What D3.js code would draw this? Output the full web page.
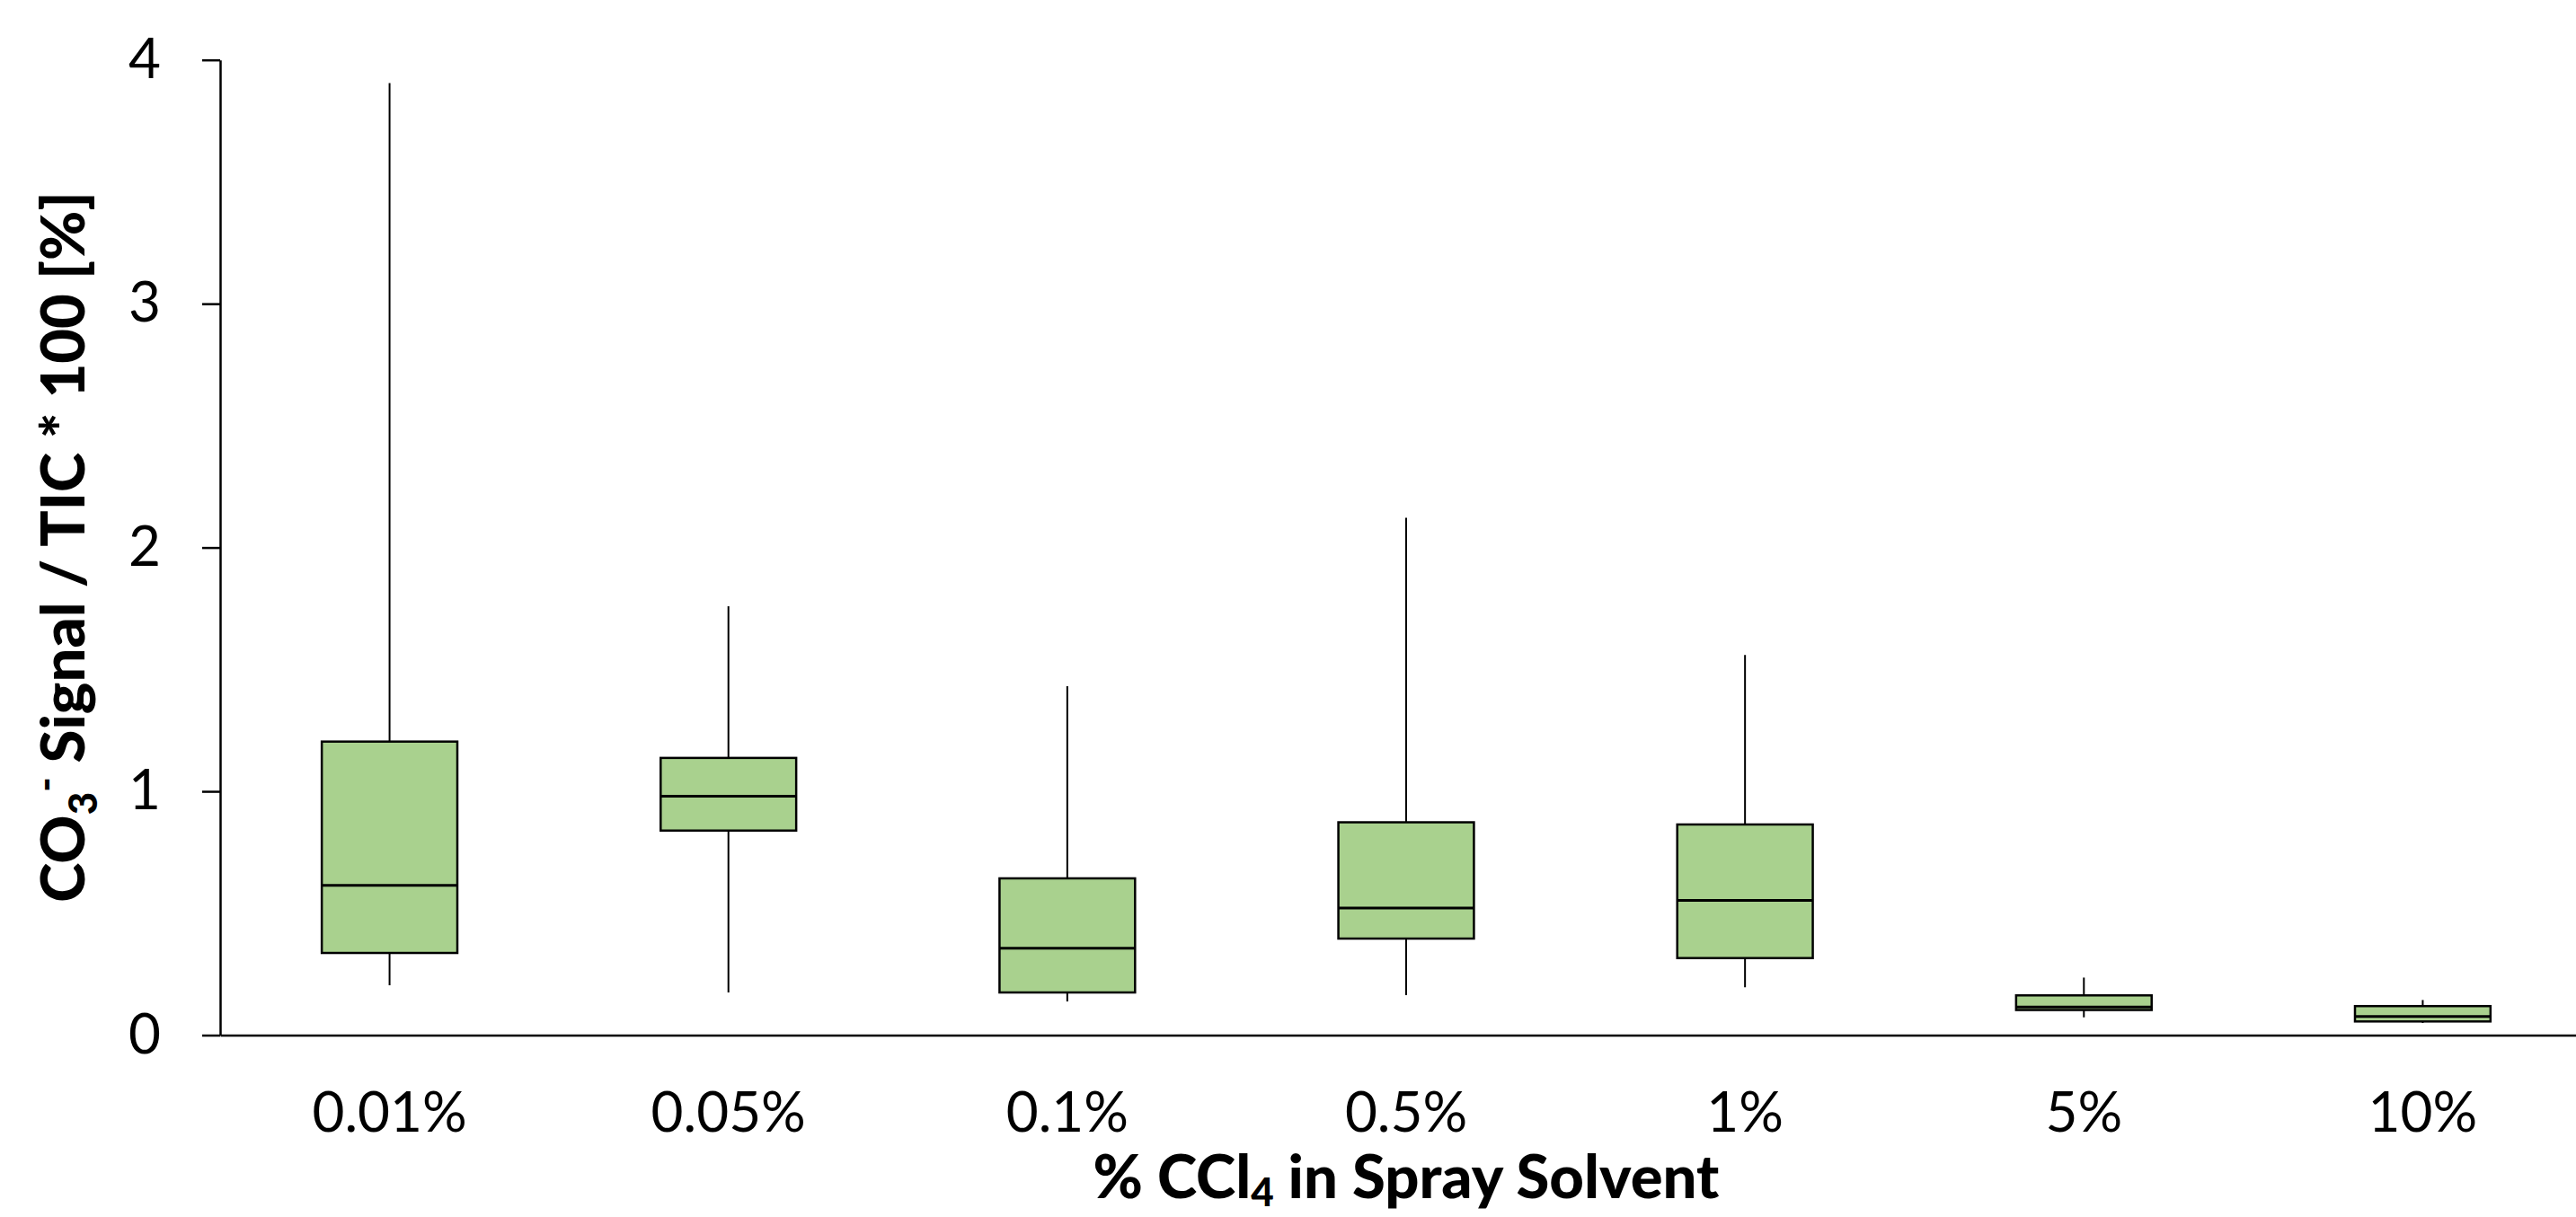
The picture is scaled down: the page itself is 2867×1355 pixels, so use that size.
<!DOCTYPE html>
<html>
<head>
<meta charset="utf-8">
<script src="https://cdn.jsdelivr.net/npm/d3@7"></script>
<style>
  body { margin: 0; background: #fff; }
  svg { display: block; }
  text { font-family: Lato, "Open Sans", sans-serif; fill: #000; }
</style>
</head>
<body>
<div id="chart"></div>
<script>
// box plot data
const categories = ["0.01%", "0.05%", "0.1%", "0.5%", "1%", "5%", "10%"];
const whiskerLow  = [0.204, 0.175, 0.138, 0.164, 0.196, 0.073, 0.050];
const q1          = [0.337, 0.839, 0.175, 0.396, 0.316, 0.103, 0.056];
const median      = [0.614, 0.980, 0.356, 0.521, 0.553, 0.115, 0.076];
const q3          = [1.204, 1.137, 0.643, 0.873, 0.864, 0.163, 0.119];
const whiskerHigh = [3.905, 1.759, 1.431, 2.122, 1.559, 0.236, 0.144];
const yTicks = [0, 1, 2, 3, 4];

const width = 2867, height = 1355;
const margin = { top: 66.7, right: -18, bottom: 202.5, left: 245 };

const boxes = categories.map((c, i) => ({
    cat: c, lo: whiskerLow[i], q1: q1[i], med: median[i], q3: q3[i], hi: whiskerHigh[i]
}));

const svg = d3.select("#chart")
    .append("svg")
    .attr("width", width)
    .attr("height", height);

const x = d3.scaleBand()
    .domain(categories)
    .range([margin.left, width - margin.right])
    .padding(0);

const y = d3.scaleLinear()
    .domain([0, 4])
    .range([height - margin.bottom, margin.top]);

const boxW = x.bandwidth() * 0.4;

// whiskers (drawn first so the boxes cover them)
svg.selectAll(".whisker")
    .data(boxes)
    .enter().append("line")
    .attr("class", "whisker")
    .attr("x1", d => x(d.cat) + x.bandwidth() / 2)
    .attr("x2", d => x(d.cat) + x.bandwidth() / 2)
    .attr("y1", d => y(d.lo))
    .attr("y2", d => y(d.hi))
    .attr("stroke", "#000")
    .attr("stroke-width", 2);

// boxes
svg.selectAll(".box")
    .data(boxes)
    .enter().append("rect")
    .attr("class", "box")
    .attr("x", d => x(d.cat) + (x.bandwidth() - boxW) / 2)
    .attr("y", d => y(d.q3))
    .attr("width", boxW)
    .attr("height", d => y(d.q1) - y(d.q3))
    .attr("fill", "#a9d18e")
    .attr("stroke", "#000")
    .attr("stroke-width", 2.5);

// medians
svg.selectAll(".median")
    .data(boxes)
    .enter().append("line")
    .attr("class", "median")
    .attr("x1", d => x(d.cat) + (x.bandwidth() - boxW) / 2)
    .attr("x2", d => x(d.cat) + (x.bandwidth() + boxW) / 2)
    .attr("y1", d => y(d.med))
    .attr("y2", d => y(d.med))
    .attr("stroke", "#000")
    .attr("stroke-width", 3);

// x axis: plain line with labels, no tick marks
const xAxis = svg.append("g")
    .attr("transform", `translate(0,${y(0)})`)
    .call(d3.axisBottom(x).tickSize(0).tickPadding(63));
xAxis.select(".domain").attr("stroke-width", 2.5);
xAxis.selectAll("text").attr("font-size", 62).attr("font-family", "Lato");

// y axis
const yAxis = svg.append("g")
    .attr("transform", `translate(${margin.left},0)`)
    .call(d3.axisLeft(y).tickValues(yTicks).tickFormat(d3.format("d"))
        .tickSize(20).tickSizeOuter(0).tickPadding(46));
yAxis.select(".domain").attr("stroke-width", 2.5);
yAxis.selectAll(".tick line").attr("stroke-width", 2.5);
yAxis.selectAll("text").attr("font-size", 62).attr("font-family", "Lato");

// axis titles
const yTitle = svg.append("text")
    .attr("transform", `translate(94,609) rotate(-90)`)
    .attr("text-anchor", "middle")
    .attr("font-size", 67)
    .attr("font-weight", "900");
yTitle.append("tspan").text("CO");
yTitle.append("tspan").attr("font-size", 44).attr("dy", 14).text("3");
yTitle.append("tspan").attr("font-size", 44).attr("dy", -42).text("-");
yTitle.append("tspan").attr("dy", 28).text(" Signal / TIC * 100 [%]");

const xTitle = svg.append("text")
    .attr("x", (margin.left + width - margin.right) / 2)
    .attr("y", 1334)
    .attr("text-anchor", "middle")
    .attr("font-size", 67)
    .attr("font-weight", "900");
xTitle.append("tspan").text("% CCl");
xTitle.append("tspan").attr("font-size", 44).attr("dy", 9).text("4");
xTitle.append("tspan").attr("dy", -9).text(" in Spray Solvent");
</script>
</body>
</html>
